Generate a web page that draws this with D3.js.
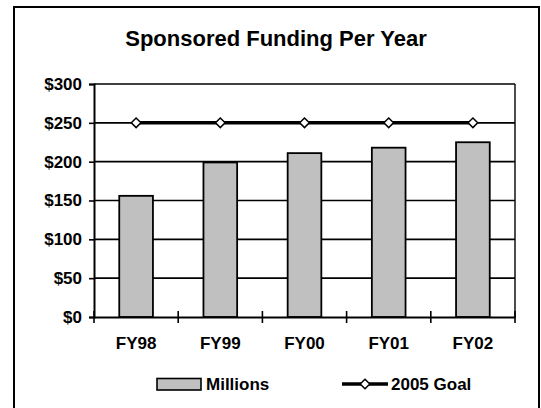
<!DOCTYPE html>
<html><head><meta charset="utf-8">
<script src="https://cdn.jsdelivr.net/npm/d3@7"></script>
<style>
html,body{margin:0;padding:0;background:#fff;}
svg{display:block;font-family:"Liberation Sans",Arial,sans-serif;font-weight:bold;}
</style></head>
<body><svg id="c" width="541" height="408"></svg>
<script>
const categories = ["FY98","FY99","FY00","FY01","FY02"];
const millions = [156, 199, 211, 218, 225];
const goal2005 = [250, 250, 250, 250, 250];
const yTicks = [0, 50, 100, 150, 200, 250, 300];
const titleText = "Sponsored Funding Per Year";
const seriesNames = ["Millions", "2005 Goal"];

const svg = d3.select("#c");
const L = 94, R = 515, T = 84, B = 317;

// outer frame
svg.append("rect").attr("x",14).attr("y",7).attr("width",525).attr("height",410)
  .attr("fill","none").attr("stroke","#000").attr("stroke-width",2);

svg.append("text").attr("x",276).attr("y",46).attr("text-anchor","middle")
  .attr("font-size",22).text(titleText);

const y = d3.scaleLinear().domain([0,300]).range([B,T]);
const xBand = d3.scaleBand().domain(categories).range([L,R]).paddingInner(0.6).paddingOuter(0.3);
const xCat = d3.scaleBand().domain(categories).range([L,R]).padding(0);

// gridlines
svg.append("g").selectAll("line").data(yTicks.filter(d=>d>0)).join("line")
  .attr("x1",L).attr("x2",R).attr("y1",d=>y(d)).attr("y2",d=>y(d))
  .attr("stroke","#000").attr("stroke-width",1.6);

// right border of plot
svg.append("line").attr("x1",R).attr("x2",R).attr("y1",T).attr("y2",B)
  .attr("stroke","#000").attr("stroke-width",1.4);

// bars
svg.append("g").selectAll("rect").data(millions).join("rect")
  .attr("x",(d,i)=>xBand(categories[i])).attr("width",xBand.bandwidth())
  .attr("y",d=>y(d)).attr("height",d=>B-y(d))
  .attr("fill","#c0c0c0").attr("stroke","#000").attr("stroke-width",1.8);

// y axis
const yAxis = d3.axisLeft(y).tickValues(yTicks).tickFormat(d=>"$"+d).tickSize(5).tickPadding(7);
const ga = svg.append("g").attr("transform",`translate(${L},0)`).call(yAxis);
ga.select(".domain").attr("stroke-width",2);
ga.selectAll(".tick line").attr("stroke-width",1.6);
ga.selectAll("text").attr("font-size",17).attr("font-family","Liberation Sans, Arial, sans-serif").attr("font-weight","bold").attr("fill","#000");

// x axis
const xAxis = d3.axisBottom(xCat).tickSize(0).tickPadding(0);
const gx = svg.append("g").attr("transform",`translate(0,${B})`).call(xAxis);
gx.select(".domain").attr("stroke-width",2);
gx.selectAll("text").attr("font-size",17).attr("font-family","Liberation Sans, Arial, sans-serif")
  .attr("font-weight","bold").attr("fill","#000").attr("dy",null).attr("y",32);
// boundary ticks crossing the axis
const bounds = categories.map(c=>xCat(c)).concat([xCat(categories[categories.length-1])+xCat.bandwidth()]);
svg.append("g").selectAll("line").data(bounds).join("line")
  .attr("x1",d=>d).attr("x2",d=>d).attr("y1",B-6).attr("y2",B+6)
  .attr("stroke","#000").attr("stroke-width",1.6);

// goal line
const cx = c => xCat(c)+xCat.bandwidth()/2;
svg.append("path").datum(goal2005)
  .attr("d", d3.line().x((d,i)=>cx(categories[i])).y(d=>y(d)))
  .attr("fill","none").attr("stroke","#000").attr("stroke-width",3.5);
const diamond = (px,py,s)=>`M${px},${py-s}L${px+s},${py}L${px},${py+s}L${px-s},${py}Z`;
svg.append("g").selectAll("path").data(goal2005).join("path")
  .attr("d",(d,i)=>diamond(cx(categories[i]),y(d),4.8))
  .attr("fill","#fff").attr("stroke","#000").attr("stroke-width",1.5);

// legend
const lg = svg.append("g");
lg.append("rect").attr("x",157).attr("y",378.5).attr("width",44).attr("height",11.5)
  .attr("fill","#c0c0c0").attr("stroke","#000").attr("stroke-width",1.6);
lg.append("text").attr("x",206).attr("y",390).attr("font-size",17).text(seriesNames[0]);
lg.append("line").attr("x1",342).attr("x2",388).attr("y1",384).attr("y2",384)
  .attr("stroke","#000").attr("stroke-width",3.5);
lg.append("path").attr("d",diamond(365,384,4.8)).attr("fill","#fff").attr("stroke","#000").attr("stroke-width",1.5);
lg.append("text").attr("x",391).attr("y",390).attr("font-size",17).text(seriesNames[1]);
</script></body></html>
